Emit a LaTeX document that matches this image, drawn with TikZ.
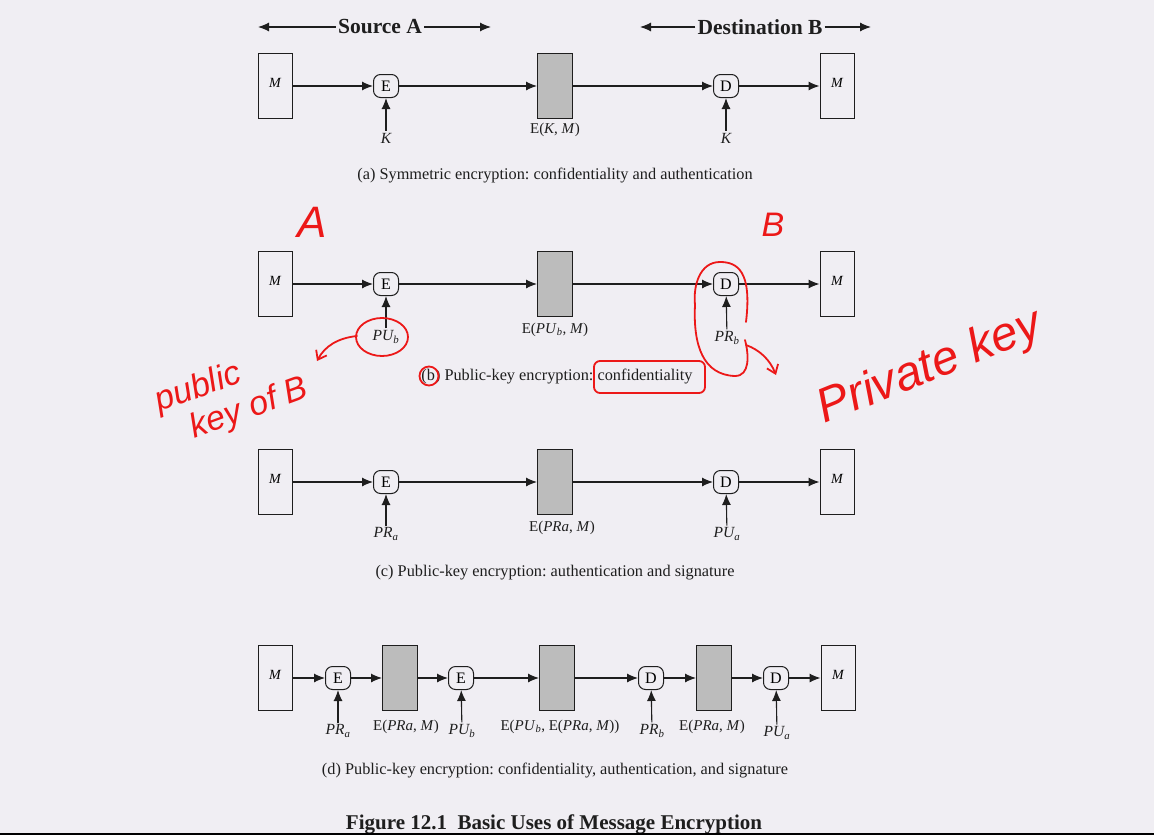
\documentclass[tikz,border=0pt]{standalone}
\usepackage{fontspec}
\setmainfont{Liberation Serif}
\newfontfamily\handfont{Liberation Sans}
\usetikzlibrary{arrows.meta}
\definecolor{bg}{RGB}{240,238,243}
\definecolor{boxgray}{RGB}{188,188,188}
\definecolor{ink}{RGB}{30,30,30}
\definecolor{pen}{RGB}{236,24,24}
\frenchspacing
\begin{document}
\begin{tikzpicture}[x=1pt,y=-1pt,
  msg/.style={draw=ink, line width=1pt, minimum width=34pt, minimum height=65pt, inner sep=0pt,
    font=\fontsize{14}{14}\selectfont\itshape},
  cipher/.style={draw=ink, fill=boxgray, line width=1pt, minimum width=35pt, minimum height=65pt, inner sep=0pt},
  op/.style={draw=ink, rounded corners=7pt, line width=1pt, minimum width=25pt, minimum height=23pt,
    inner sep=0pt, font=\fontsize{16}{16}\selectfont},
  flow/.style={-{Latex[length=11pt,width=9pt]}, line width=1.1pt, draw=ink},
  lbl/.style={font=\fontsize{15}{15}\selectfont, text=ink, inner sep=1.5pt},
  keyl/.style={font=\fontsize{15.5}{15.5}\selectfont\itshape, text=ink, inner sep=2pt},
  capt/.style={font=\fontsize{16.3}{16.3}\selectfont, text=ink},
  head/.style={font=\fontsize{21.5}{21.5}\selectfont\bfseries, text=ink, inner sep=2pt},
  ann/.style={draw=pen, line width=1.8pt, line cap=round, line join=round},
  hand/.style={text=pen, font=\handfont\itshape}
]
\fill[bg] (0,0) rectangle (1154,835);
\useasboundingbox (0,0) rectangle (1154,835);

% ---------------- header
\node[head] (src) at (380,27) {Source A};
\coordinate (srcL) at (258,27);
\coordinate (srcR) at (491,27);
\draw[flow] (src.west) -- (srcL);
\draw[flow] (src.east) -- (srcR);
\node[head] (dst) at (760,27) {Destination B};
\coordinate (dstL) at (640,27);
\coordinate (dstR) at (871,27);
\draw[flow] (dst.west) -- (dstL);
\draw[flow] (dst.east) -- (dstR);

% ---------------- panel (a)
\node[msg] (am1) at (275,86) {\raisebox{7pt}{M}};
\node[op] (ae) at (386,86) {E};
\node[cipher] (ac) at (555,86) {};
\node[op] (ad) at (726,86) {D};
\node[msg] (am2) at (837,86) {\raisebox{7pt}{M}};
\draw[flow] (am1) -- (ae);
\draw[flow] (ae) -- (ac);
\draw[flow] (ac) -- (ad);
\draw[flow] (ad) -- (am2);
\node[keyl] (ak1) at (386,138) {K};
\node[keyl] (ak2) at (726,138) {K};
\draw[flow] (ak1) -- (ae);
\draw[flow] (ak2) -- (ad);
\node[lbl] (acl) at (555,130) {E(\textit{K}, \textit{M})};
\node[capt] (acap) at (555,176) {(a) Symmetric encryption: confidentiality and authentication};

% ---------------- panel (b)
\node[msg] (bm1) at (275,284) {\raisebox{7pt}{M}};
\node[op] (be) at (386,284) {E};
\node[cipher] (bc) at (555,284) {};
\node[op] (bd) at (726,284) {D};
\node[msg] (bm2) at (837,284) {\raisebox{7pt}{M}};
\draw[flow] (bm1) -- (be);
\draw[flow] (be) -- (bc);
\draw[flow] (bc) -- (bd);
\draw[flow] (bd) -- (bm2);
\node[keyl] (bk1) at (386,337) {PU\textsubscript{\textit{b}}};
\node[keyl] (bk2) at (727,338) {PR\textsubscript{\textit{b}}};
\draw[flow] (bk1) -- (be);
\draw[flow] (bk2) -- (bd);
\node[lbl] (bcl) at (555,330) {E(\textit{PU}\textsubscript{\textit{b}}, \textit{M})};
\node[capt] (bcap) at (557,377) {(b) Public-key encryption: confidentiality};

% ---------------- panel (c)
\node[msg] (cm1) at (275,482) {\raisebox{7pt}{M}};
\node[op] (ce) at (386,482) {E};
\node[cipher] (cc) at (555,482) {};
\node[op] (cd) at (726,482) {D};
\node[msg] (cm2) at (837,482) {\raisebox{7pt}{M}};
\draw[flow] (cm1) -- (ce);
\draw[flow] (ce) -- (cc);
\draw[flow] (cc) -- (cd);
\draw[flow] (cd) -- (cm2);
\node[keyl] (ck1) at (386,534) {PR\textsubscript{\textit{a}}};
\node[keyl] (ck2) at (727,534) {PU\textsubscript{\textit{a}}};
\draw[flow] (ck1) -- (ce);
\draw[flow] (ck2) -- (cd);
\node[lbl] (ccl) at (562,528) {E(\textit{PRa}, \textit{M})};
\node[capt] (ccap) at (555,573) {(c) Public-key encryption: authentication and signature};

% ---------------- panel (d)
\node[msg] (dm1) at (275,678) {\raisebox{7pt}{M}};
\node[op] (de1) at (338,678) {E};
\node[cipher] (dc1) at (400,678) {};
\node[op] (de2) at (461,678) {E};
\node[cipher] (dc2) at (557,678) {};
\node[op] (dd1) at (651,678) {D};
\node[cipher] (dc3) at (714,678) {};
\node[op] (dd2) at (776,678) {D};
\node[msg] (dm2) at (838,678) {\raisebox{7pt}{M}};
\draw[flow] (dm1) -- (de1);
\draw[flow] (de1) -- (dc1);
\draw[flow] (dc1) -- (de2);
\draw[flow] (de2) -- (dc2);
\draw[flow] (dc2) -- (dd1);
\draw[flow] (dd1) -- (dc3);
\draw[flow] (dc3) -- (dd2);
\draw[flow] (dd2) -- (dm2);
\node[keyl] (dk1) at (338,731) {PR\textsubscript{\textit{a}}};
\node[keyl] (dk2) at (462,731) {PU\textsubscript{\textit{b}}};
\node[keyl] (dk3) at (652,731) {PR\textsubscript{\textit{b}}};
\node[keyl] (dk4) at (777,733) {PU\textsubscript{\textit{a}}};
\draw[flow] (dk1) -- (de1);
\draw[flow] (dk2) -- (de2);
\draw[flow] (dk3) -- (dd1);
\draw[flow] (dk4) -- (dd2);
\node[lbl] (dcl1) at (406,727) {E(\textit{PRa}, \textit{M})};
\node[lbl] (dcl2) at (560,727) {E(\textit{PU}\textsubscript{\textit{b}}, E(\textit{PRa}, \textit{M}))};
\node[lbl] (dcl3) at (712,727) {E(\textit{PRa}, \textit{M})};
\node[capt] (dcap) at (555,771) {(d) Public-key encryption: confidentiality, authentication, and signature};

% ---------------- title
\node[font=\fontsize{21}{21}\selectfont\bfseries, text=ink, anchor=base] (title) at (554,829) {Figure 12.1\enspace Basic Uses of Message Encryption};
\fill[black] (0,832.5) rectangle (1154,835);

% ---------------- red handwritten annotations
\node[hand, font=\handfont\itshape\fontsize{44}{44}\selectfont] (annA) at (312,222) {A};
\node[hand, font=\handfont\itshape\fontsize{34}{34}\selectfont] (annB) at (773,225) {B};
\node[hand, rotate=20, align=left, font=\handfont\itshape\fontsize{34}{37}\selectfont] (annPub) at (232,396) {public\\\hspace*{24pt}key of B};
\node[hand, rotate=22, font=\handfont\itshape\fontsize{48}{48}\selectfont] (annPriv) at (930,368) {Private key};

\draw[ann] (382,337) ellipse [x radius=26, y radius=19];
\draw[ann, -{Straight Barb[length=8pt,width=12pt]}] (357,336) .. controls (338,338) and (325,346) .. (317,361);
\draw[ann] (429,376) circle [radius=9.5];
\draw[ann, rounded corners=6pt] (594,361) rectangle (705,393);
\draw[ann] (746,322) .. controls (752,272) and (738,262) .. (720,262)
  .. controls (700,262) and (693,285) .. (695,305)
  .. controls (693,345) and (703,375) .. (735,376)
  .. controls (750,376) and (749,355) .. (745,340);
\draw[ann, -{Straight Barb[length=8pt,width=12pt]}] (746,345) .. controls (760,350) and (770,360) .. (776,375);
\end{tikzpicture}
\end{document}
